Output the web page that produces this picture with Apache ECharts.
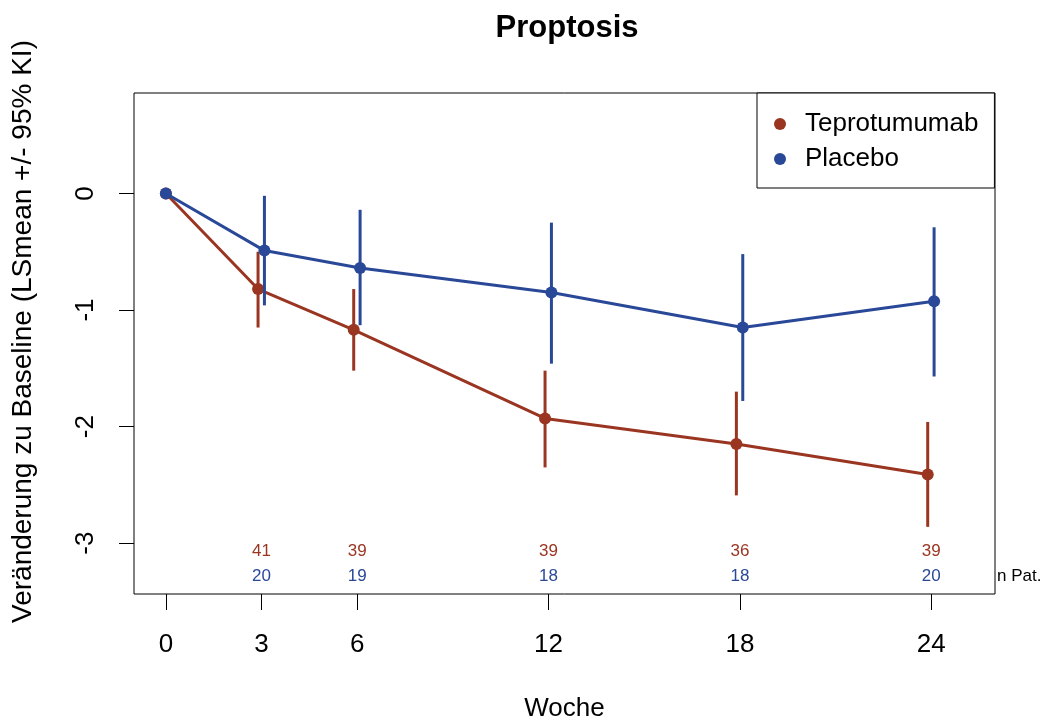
<!DOCTYPE html>
<html>
<head>
<meta charset="utf-8">
<script src="https://cdn.jsdelivr.net/npm/echarts@6/dist/echarts.min.js"></script>
<style>
  html, body { margin: 0; padding: 0; background: #fff; }
  #chart { width: 1042px; height: 718px; }
</style>
</head>
<body>
<div id="chart"></div>
<script>
// ---- data ----
const weeks = [0, 3, 6, 12, 18, 24];
const xTicks = [0, 3, 6, 12, 18, 24];
const yTicks = [0, -1, -2, -3];

const tepMean  = [0, -0.82, -1.17, -1.93, -2.15, -2.41];
const tepLower = [0, -1.15, -1.52, -2.35, -2.59, -2.86];
const tepUpper = [0, -0.50, -0.82, -1.52, -1.70, -1.96];

const plaMean  = [0, -0.49, -0.64, -0.85, -1.15, -0.925];
const plaLower = [0, -0.96, -1.13, -1.46, -1.78, -1.57];
const plaUpper = [0, -0.02, -0.14, -0.25, -0.52, -0.29];

const nTep = [null, 41, 39, 39, 36, 39];
const nPla = [null, 20, 19, 18, 18, 20];

const seriesNames = ['Teprotumumab', 'Placebo'];

// ---- style ----
const RED = '#9a3522';
const BLUE = '#2a4898';
const FONT = "'Liberation Sans', Arial, Helvetica, sans-serif";
const X_MIN = -1, X_MAX = 26;
const Y_MIN = -3.436, Y_MAX = 0.862;
const DODGE_TEP = -0.11, DODGE_PLA = 0.09;

function dodge(w, d) { return w === 0 ? w : w + d; }

const tepLine = weeks.map((w, i) => [dodge(w, DODGE_TEP), tepMean[i]]);
const plaLine = weeks.map((w, i) => [dodge(w, DODGE_PLA), plaMean[i]]);
const tepCI = weeks.map((w, i) => [dodge(w, DODGE_TEP), tepLower[i], tepUpper[i]]).filter(d => d[1] !== d[2]);
const plaCI = weeks.map((w, i) => [dodge(w, DODGE_PLA), plaLower[i], plaUpper[i]]).filter(d => d[1] !== d[2]);
const nData = weeks.map((w, i) => [w, nTep[i], nPla[i]]).filter(d => d[1] != null);

function ciRenderer(color) {
  return function (params, api) {
    const x = api.value(0);
    const p1 = api.coord([x, api.value(1)]);
    const p2 = api.coord([x, api.value(2)]);
    return {
      type: 'line',
      shape: { x1: p1[0], y1: p1[1], x2: p2[0], y2: p2[1] },
      style: { stroke: color, lineWidth: 3, lineCap: 'butt' }
    };
  };
}

const chart = echarts.init(document.getElementById('chart'), null, { renderer: 'canvas' });

const option = {
  animation: false,
  backgroundColor: '#fff',
  textStyle: { fontFamily: FONT },
  title: {
    text: 'Proptosis',
    left: 567,
    textAlign: 'center',
    top: 13,
    padding: 0,
    textStyle: { fontFamily: FONT, fontSize: 31, fontWeight: 'bold', color: '#000' }
  },
  legend: {
    data: seriesNames.map(n => ({ name: n })),
    orient: 'vertical',
    left: 757,
    top: 93,
    padding: [18, 16, 16, 17],
    itemGap: 9,
    itemWidth: 40,
    itemHeight: 12,
    icon: 'circle',
    selectedMode: false,
    backgroundColor: '#fff',
    borderColor: '#000',
    borderWidth: 1,
    borderRadius: 0,
    textStyle: { fontFamily: FONT, fontSize: 26, color: '#000', padding: 0 }
  },
  grid: {
    left: 134, right: 47, top: 93, bottom: 124,
    show: true,
    borderColor: '#000',
    borderWidth: 1,
    backgroundColor: 'transparent',
    containLabel: false,
    outerBoundsMode: 'none'
  },
  xAxis: {
    type: 'value',
    min: X_MIN, max: X_MAX,
    name: 'Woche',
    nameLocation: 'middle',
    nameGap: 102,
    nameTextStyle: { fontFamily: FONT, fontSize: 26, color: '#000' },
    axisLine: { show: false, onZero: false },
    splitLine: { show: false },
    axisTick: {
      show: true, inside: false, length: 16,
      customValues: xTicks,
      lineStyle: { color: '#000', width: 1 }
    },
    axisLabel: {
      customValues: xTicks,
      margin: 38,
      fontFamily: FONT, fontSize: 26, color: '#000'
    }
  },
  yAxis: {
    type: 'value',
    min: Y_MIN, max: Y_MAX,
    name: 'Veränderung zu Baseline (LSmean +/- 95% KI)',
    nameLocation: 'middle',
    nameGap: 97,
    nameRotate: 90,
    nameTextStyle: { fontFamily: FONT, fontSize: 28, color: '#000', padding: [0, 0, 0, 24] },
    axisLine: { show: false, onZero: false },
    splitLine: { show: false },
    axisTick: {
      show: true, inside: false, length: 15,
      customValues: yTicks,
      lineStyle: { color: '#000', width: 1 }
    },
    axisLabel: {
      customValues: yTicks,
      rotate: 90,
      margin: 35,
      fontFamily: FONT, fontSize: 26, color: '#000'
    }
  },
  series: [
    {
      name: seriesNames[0],
      type: 'line',
      data: tepLine,
      symbol: 'circle',
      symbolSize: 12,
      showSymbol: true,
      lineStyle: { color: RED, width: 3 },
      itemStyle: { color: RED, borderWidth: 0 },
      emphasis: { disabled: true },
      z: 3
    },
    {
      name: 'tepCI',
      type: 'custom',
      data: tepCI,
      encode: { x: 0, y: [1, 2] },
      renderItem: ciRenderer(RED),
      silent: true,
      z: 3
    },
    {
      name: seriesNames[1],
      type: 'line',
      data: plaLine,
      symbol: 'circle',
      symbolSize: 12,
      showSymbol: true,
      lineStyle: { color: BLUE, width: 3 },
      itemStyle: { color: BLUE, borderWidth: 0 },
      emphasis: { disabled: true },
      z: 4
    },
    {
      name: 'plaCI',
      type: 'custom',
      data: plaCI,
      encode: { x: 0, y: [1, 2] },
      renderItem: ciRenderer(BLUE),
      silent: true,
      z: 4
    },
    {
      name: 'nPat',
      type: 'custom',
      data: nData,
      encode: { x: 0 },
      clip: false,
      silent: true,
      renderItem: function (params, api) {
        const base = api.coord([api.value(0), Y_MIN]);
        return {
          type: 'group',
          children: [
            {
              type: 'text', x: base[0], y: base[1] - 43,
              style: { text: String(api.value(1)), fill: RED, fontFamily: FONT, fontSize: 17, align: 'center', verticalAlign: 'middle' }
            },
            {
              type: 'text', x: base[0], y: base[1] - 17.5,
              style: { text: String(api.value(2)), fill: BLUE, fontFamily: FONT, fontSize: 17, align: 'center', verticalAlign: 'middle' }
            }
          ]
        };
      },
      z: 5
    }
  ],
  graphic: [
    {
      type: 'text',
      left: 997,
      top: 568,
      style: { text: 'n Pat.', fill: '#000', fontFamily: FONT, fontSize: 17 }
    }
  ]
};

chart.setOption(option);
</script>
</body>
</html>
